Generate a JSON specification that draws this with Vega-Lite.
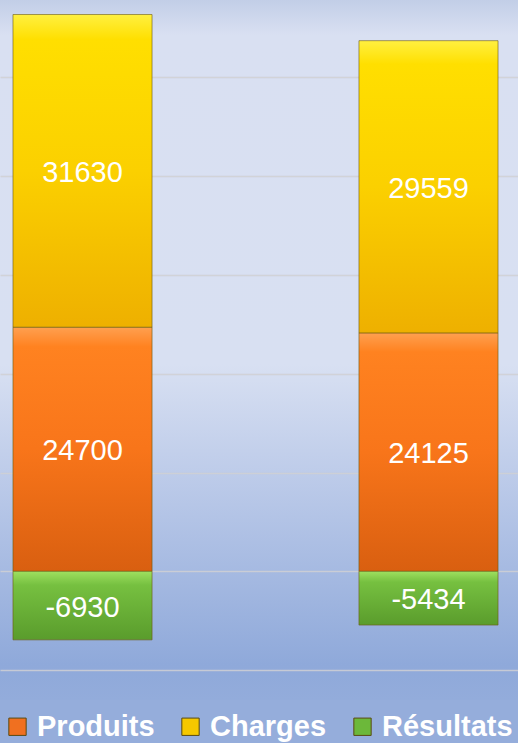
{
  "$schema": "https://vega.github.io/schema/vega-lite/v6.json",
  "width": 518,
  "height": 700,
  "padding": 0,
  "background": "#95addb",
  "view": {
    "stroke": null,
    "fill": {
      "gradient": "linear", "x1": 0, "y1": 0, "x2": 0, "y2": 1,
      "stops": [
        {"offset": 0, "color": "#c2cee7"},
        {"offset": 0.05, "color": "#d9e0f2"},
        {"offset": 0.52, "color": "#d8e0f2"},
        {"offset": 0.72, "color": "#b6c6e7"},
        {"offset": 0.95, "color": "#8fa9da"},
        {"offset": 1, "color": "#93acdb"}
      ]
    }
  },
  "data": {
    "values": [
      {"annee": "Année 1", "serie": "Produits", "valeur": 24700},
      {"annee": "Année 1", "serie": "Charges", "valeur": 31630},
      {"annee": "Année 1", "serie": "Résultats", "valeur": -6930},
      {"annee": "Année 2", "serie": "Produits", "valeur": 24125},
      {"annee": "Année 2", "serie": "Charges", "valeur": 29559},
      {"annee": "Année 2", "serie": "Résultats", "valeur": -5434}
    ]
  },
  "transform": [
    {"stack": "valeur", "groupby": ["annee"], "sort": [{"field": "serie", "order": "descending"}], "as": ["v0", "v1"]},
    {"calculate": "(datum.v0 + datum.v1) / 2", "as": "mid"}
  ],
  "encoding": {
    "x": {
      "field": "annee", "type": "nominal", "axis": null,
      "scale": {"paddingInner": 0.598, "paddingOuter": 0.0476, "align": 0.394}
    }
  },
  "layer": [
    {
      "mark": {"type": "bar", "stroke": "#6b5a10", "strokeOpacity": 0.6, "strokeWidth": 1},
      "encoding": {
        "y": {
          "field": "v0", "type": "quantitative",
          "scale": {"domain": [-13014, 57800], "nice": false, "zero": false},
          "axis": {
            "title": null, "labels": false, "ticks": false, "domain": false,
            "grid": true, "values": [-10000, 0, 10000, 20000, 30000, 40000, 50000],
            "gridColor": "#d0d0d4", "gridOpacity": 0.85, "gridWidth": 1.5
          }
        },
        "y2": {"field": "v1"},
        "fill": {
          "field": "serie", "type": "nominal",
          "condition": [
            {"test": "datum.serie === 'Produits'", "value": {"gradient": "linear", "x1": 0, "y1": 0, "x2": 0, "y2": 1, "stops": [
                {"offset": 0, "color": "#ffa050"}, {"offset": 0.08, "color": "#ff8220"},
                {"offset": 0.5, "color": "#f8751a"}, {"offset": 1, "color": "#d95f10"}]}},
            {"test": "datum.serie === 'Charges'", "value": {"gradient": "linear", "x1": 0, "y1": 0, "x2": 0, "y2": 1, "stops": [
                {"offset": 0, "color": "#fff040"}, {"offset": 0.08, "color": "#ffdf00"},
                {"offset": 0.5, "color": "#fbd000"}, {"offset": 1, "color": "#eeb000"}]}},
            {"test": "datum.serie === 'Résultats'", "value": {"gradient": "linear", "x1": 0, "y1": 0, "x2": 0, "y2": 1, "stops": [
                {"offset": 0, "color": "#9ee060"}, {"offset": 0.2, "color": "#76c040"},
                {"offset": 1, "color": "#5a9c2c"}]}}
          ],
          "scale": {
            "domain": ["Produits", "Charges", "Résultats"],
            "range": ["#f07020", "#f5c800", "#6cb83a"]
          },
          "legend": {
            "title": null, "orient": "bottom", "direction": "horizontal",
            "symbolType": "square", "symbolSize": 300, "symbolStrokeColor": "#5a4a10",
            "symbolStrokeWidth": 1,
            "labelFont": "Liberation Sans", "labelFontSize": 29, "labelFontWeight": "bold",
            "labelColor": "#ffffff", "labelOffset": 5, "columnPadding": 21,
            "offset": 9, "padding": 3, "labelLimit": 300
          }
        }
      }
    },
    {
      "mark": {"type": "text", "color": "#ffffff", "font": "Liberation Sans", "fontSize": 29, "baseline": "middle", "align": "center", "dy": 2},
      "encoding": {
        "y": {"field": "mid", "type": "quantitative"},
        "text": {"field": "valeur", "type": "nominal"}
      }
    }
  ]
}
